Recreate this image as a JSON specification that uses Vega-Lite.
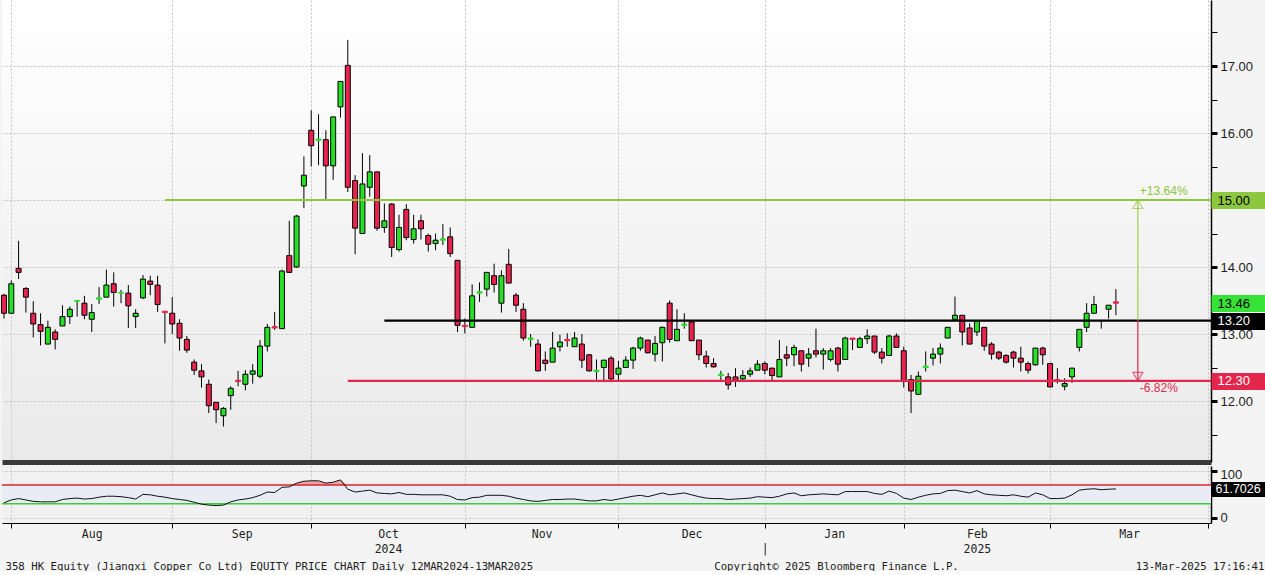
{
  "$schema": "https://vega.github.io/schema/vega-lite/v6.json",
  "background": "#F4F4F4",
  "padding": {"left": 0, "top": 0, "right": 0, "bottom": 0},
  "spacing": 4,
  "bounds": "flush",
  "datasets": {
    "ohlc": [
      {"day":0,"open":13.58,"high":13.60,"low":13.23,"close":13.31,"rsi":32},
      {"day":1,"open":13.31,"high":13.80,"low":13.31,"close":13.75,"rsi":38},
      {"day":2,"open":13.98,"high":14.39,"low":13.82,"close":13.92,"rsi":41},
      {"day":3,"open":13.68,"high":13.70,"low":13.32,"close":13.55,"rsi":38},
      {"day":4,"open":13.31,"high":13.49,"low":12.95,"close":13.15,"rsi":35},
      {"day":5,"open":13.14,"high":13.31,"low":12.83,"close":13.04,"rsi":34},
      {"day":6,"open":12.85,"high":13.20,"low":12.85,"close":13.10,"rsi":34},
      {"day":7,"open":13.03,"high":13.07,"low":12.77,"close":12.92,"rsi":34},
      {"day":8,"open":13.12,"high":13.43,"low":13.12,"close":13.26,"rsi":39},
      {"day":9,"open":13.26,"high":13.41,"low":13.15,"close":13.37,"rsi":41},
      {"day":10,"open":13.49,"high":13.51,"low":13.26,"close":13.50,"rsi":42},
      {"day":11,"open":13.46,"high":13.57,"low":13.22,"close":13.28,"rsi":40},
      {"day":12,"open":13.22,"high":13.45,"low":13.03,"close":13.32,"rsi":41},
      {"day":13,"open":13.52,"high":13.70,"low":13.45,"close":13.54,"rsi":44},
      {"day":14,"open":13.55,"high":13.96,"low":13.55,"close":13.73,"rsi":46},
      {"day":15,"open":13.75,"high":13.92,"low":13.41,"close":13.62,"rsi":46},
      {"day":16,"open":13.61,"high":13.66,"low":13.46,"close":13.62,"rsi":45},
      {"day":17,"open":13.61,"high":13.73,"low":13.09,"close":13.42,"rsi":43},
      {"day":18,"open":13.26,"high":13.37,"low":13.09,"close":13.31,"rsi":40},
      {"day":19,"open":13.54,"high":13.88,"low":13.52,"close":13.82,"rsi":50},
      {"day":20,"open":13.79,"high":13.87,"low":13.58,"close":13.74,"rsi":49},
      {"day":21,"open":13.73,"high":13.87,"low":13.33,"close":13.44,"rsi":46},
      {"day":22,"open":13.34,"high":13.34,"low":12.86,"close":13.32,"rsi":44},
      {"day":23,"open":13.31,"high":13.55,"low":13.00,"close":13.15,"rsi":41},
      {"day":24,"open":13.16,"high":13.22,"low":12.75,"close":12.94,"rsi":39},
      {"day":25,"open":12.92,"high":12.97,"low":12.72,"close":12.76,"rsi":37},
      {"day":26,"open":12.58,"high":12.62,"low":12.39,"close":12.46,"rsi":33},
      {"day":27,"open":12.45,"high":12.55,"low":12.20,"close":12.36,"rsi":29},
      {"day":28,"open":12.25,"high":12.32,"low":11.82,"close":11.93,"rsi":27},
      {"day":29,"open":11.98,"high":11.98,"low":11.67,"close":11.87,"rsi":26},
      {"day":30,"open":11.78,"high":11.91,"low":11.62,"close":11.89,"rsi":27},
      {"day":31,"open":12.08,"high":12.22,"low":11.87,"close":12.19,"rsi":34},
      {"day":32,"open":12.31,"high":12.45,"low":12.22,"close":12.29,"rsi":38},
      {"day":33,"open":12.25,"high":12.46,"low":12.16,"close":12.40,"rsi":40},
      {"day":34,"open":12.40,"high":12.55,"low":12.26,"close":12.45,"rsi":43},
      {"day":35,"open":12.37,"high":12.91,"low":12.34,"close":12.82,"rsi":48},
      {"day":36,"open":12.82,"high":13.15,"low":12.74,"close":13.10,"rsi":55},
      {"day":37,"open":13.11,"high":13.33,"low":13.06,"close":13.09,"rsi":54},
      {"day":38,"open":13.08,"high":13.96,"low":13.08,"close":13.94,"rsi":65},
      {"day":39,"open":14.17,"high":14.69,"low":13.92,"close":13.92,"rsi":66},
      {"day":40,"open":14.00,"high":14.78,"low":13.99,"close":14.76,"rsi":74},
      {"day":41,"open":15.21,"high":15.65,"low":14.88,"close":15.37,"rsi":78},
      {"day":42,"open":16.04,"high":16.34,"low":15.50,"close":15.81,"rsi":79},
      {"day":43,"open":15.89,"high":16.28,"low":15.52,"close":15.91,"rsi":79},
      {"day":44,"open":15.90,"high":16.04,"low":15.01,"close":15.51,"rsi":74},
      {"day":45,"open":15.51,"high":16.24,"low":15.30,"close":16.24,"rsi":76},
      {"day":46,"open":16.39,"high":16.77,"low":16.23,"close":16.77,"rsi":81},
      {"day":47,"open":17.01,"high":17.39,"low":15.12,"close":15.19,"rsi":61},
      {"day":48,"open":15.29,"high":15.37,"low":14.19,"close":14.58,"rsi":55},
      {"day":49,"open":14.50,"high":15.70,"low":14.50,"close":15.24,"rsi":57},
      {"day":50,"open":15.19,"high":15.67,"low":15.05,"close":15.42,"rsi":59},
      {"day":51,"open":15.42,"high":15.42,"low":14.54,"close":14.58,"rsi":53},
      {"day":52,"open":14.59,"high":14.95,"low":14.51,"close":14.69,"rsi":52},
      {"day":53,"open":14.94,"high":14.95,"low":14.15,"close":14.29,"rsi":51},
      {"day":54,"open":14.26,"high":14.78,"low":14.23,"close":14.59,"rsi":54},
      {"day":55,"open":14.86,"high":14.94,"low":14.40,"close":14.44,"rsi":50},
      {"day":56,"open":14.41,"high":14.78,"low":14.35,"close":14.57,"rsi":50},
      {"day":57,"open":14.69,"high":14.78,"low":14.41,"close":14.57,"rsi":49},
      {"day":58,"open":14.47,"high":14.50,"low":14.23,"close":14.34,"rsi":49},
      {"day":59,"open":14.35,"high":14.50,"low":14.25,"close":14.40,"rsi":49},
      {"day":60,"open":14.40,"high":14.64,"low":14.33,"close":14.42,"rsi":49},
      {"day":61,"open":14.45,"high":14.59,"low":14.15,"close":14.20,"rsi":46},
      {"day":62,"open":14.10,"high":14.10,"low":13.03,"close":13.13,"rsi":39},
      {"day":63,"open":13.13,"high":13.23,"low":13.01,"close":13.11,"rsi":38},
      {"day":64,"open":13.10,"high":13.74,"low":13.10,"close":13.57,"rsi":43},
      {"day":65,"open":13.61,"high":13.77,"low":13.48,"close":13.63,"rsi":44},
      {"day":66,"open":13.67,"high":13.92,"low":13.56,"close":13.92,"rsi":48},
      {"day":67,"open":13.87,"high":14.05,"low":13.62,"close":13.74,"rsi":48},
      {"day":68,"open":13.46,"high":13.95,"low":13.32,"close":13.87,"rsi":48},
      {"day":69,"open":14.04,"high":14.27,"low":13.76,"close":13.76,"rsi":46},
      {"day":70,"open":13.58,"high":13.61,"low":13.33,"close":13.43,"rsi":42},
      {"day":71,"open":13.37,"high":13.46,"low":12.90,"close":12.94,"rsi":39},
      {"day":72,"open":12.92,"high":13.00,"low":12.81,"close":12.94,"rsi":36},
      {"day":73,"open":12.85,"high":12.92,"low":12.44,"close":12.45,"rsi":35},
      {"day":74,"open":12.61,"high":12.74,"low":12.45,"close":12.56,"rsi":37},
      {"day":75,"open":12.58,"high":13.03,"low":12.58,"close":12.79,"rsi":39},
      {"day":76,"open":12.81,"high":12.99,"low":12.74,"close":12.88,"rsi":39},
      {"day":77,"open":12.92,"high":13.01,"low":12.81,"close":12.90,"rsi":40},
      {"day":78,"open":12.81,"high":13.03,"low":12.81,"close":12.94,"rsi":40},
      {"day":79,"open":12.85,"high":13.00,"low":12.49,"close":12.61,"rsi":38},
      {"day":80,"open":12.69,"high":12.70,"low":12.44,"close":12.45,"rsi":36},
      {"day":81,"open":12.44,"high":12.62,"low":12.32,"close":12.46,"rsi":36},
      {"day":82,"open":12.50,"high":12.61,"low":12.28,"close":12.61,"rsi":39},
      {"day":83,"open":12.64,"high":12.67,"low":12.28,"close":12.33,"rsi":37},
      {"day":84,"open":12.40,"high":12.60,"low":12.30,"close":12.49,"rsi":40},
      {"day":85,"open":12.50,"high":12.67,"low":12.50,"close":12.61,"rsi":43},
      {"day":86,"open":12.61,"high":12.81,"low":12.48,"close":12.79,"rsi":46},
      {"day":87,"open":12.79,"high":12.96,"low":12.75,"close":12.94,"rsi":48},
      {"day":88,"open":12.91,"high":12.91,"low":12.71,"close":12.72,"rsi":45},
      {"day":89,"open":12.70,"high":12.97,"low":12.59,"close":12.86,"rsi":49},
      {"day":90,"open":12.87,"high":13.11,"low":12.59,"close":13.10,"rsi":53},
      {"day":91,"open":13.46,"high":13.50,"low":12.87,"close":12.92,"rsi":49},
      {"day":92,"open":12.90,"high":13.37,"low":12.90,"close":13.07,"rsi":51},
      {"day":93,"open":13.13,"high":13.31,"low":13.08,"close":13.15,"rsi":53},
      {"day":94,"open":13.18,"high":13.20,"low":12.90,"close":12.90,"rsi":49},
      {"day":95,"open":12.91,"high":12.91,"low":12.61,"close":12.69,"rsi":45},
      {"day":96,"open":12.67,"high":12.75,"low":12.50,"close":12.56,"rsi":42},
      {"day":97,"open":12.56,"high":12.64,"low":12.50,"close":12.51,"rsi":41},
      {"day":98,"open":12.38,"high":12.45,"low":12.31,"close":12.40,"rsi":41},
      {"day":99,"open":12.36,"high":12.42,"low":12.17,"close":12.24,"rsi":39},
      {"day":100,"open":12.36,"high":12.49,"low":12.21,"close":12.31,"rsi":40},
      {"day":101,"open":12.33,"high":12.46,"low":12.29,"close":12.38,"rsi":41},
      {"day":102,"open":12.40,"high":12.50,"low":12.36,"close":12.45,"rsi":42},
      {"day":103,"open":12.46,"high":12.61,"low":12.46,"close":12.55,"rsi":45},
      {"day":104,"open":12.56,"high":12.59,"low":12.40,"close":12.46,"rsi":44},
      {"day":105,"open":12.49,"high":12.50,"low":12.30,"close":12.38,"rsi":43},
      {"day":106,"open":12.36,"high":12.91,"low":12.36,"close":12.62,"rsi":46},
      {"day":107,"open":12.69,"high":12.82,"low":12.52,"close":12.64,"rsi":51},
      {"day":108,"open":12.69,"high":12.84,"low":12.52,"close":12.80,"rsi":53},
      {"day":109,"open":12.75,"high":12.75,"low":12.44,"close":12.55,"rsi":47},
      {"day":110,"open":12.64,"high":12.79,"low":12.51,"close":12.70,"rsi":49},
      {"day":111,"open":12.75,"high":13.08,"low":12.65,"close":12.70,"rsi":50},
      {"day":112,"open":12.70,"high":12.79,"low":12.47,"close":12.75,"rsi":51},
      {"day":113,"open":12.62,"high":12.79,"low":12.59,"close":12.75,"rsi":50},
      {"day":114,"open":12.79,"high":12.81,"low":12.44,"close":12.55,"rsi":49},
      {"day":115,"open":12.62,"high":12.96,"low":12.62,"close":12.94,"rsi":56},
      {"day":116,"open":12.94,"high":12.94,"low":12.76,"close":12.92,"rsi":56},
      {"day":117,"open":12.80,"high":12.96,"low":12.80,"close":12.93,"rsi":56},
      {"day":118,"open":12.93,"high":13.07,"low":12.85,"close":12.97,"rsi":56},
      {"day":119,"open":12.97,"high":12.97,"low":12.70,"close":12.73,"rsi":52},
      {"day":120,"open":12.73,"high":12.79,"low":12.56,"close":12.64,"rsi":50},
      {"day":121,"open":12.68,"high":12.99,"low":12.68,"close":12.97,"rsi":57},
      {"day":122,"open":12.97,"high":13.01,"low":12.80,"close":12.80,"rsi":52},
      {"day":123,"open":12.75,"high":12.81,"low":12.20,"close":12.29,"rsi":42},
      {"day":124,"open":12.32,"high":12.39,"low":11.82,"close":12.15,"rsi":39},
      {"day":125,"open":12.10,"high":12.44,"low":12.10,"close":12.37,"rsi":44},
      {"day":126,"open":12.50,"high":12.74,"low":12.44,"close":12.52,"rsi":48},
      {"day":127,"open":12.64,"high":12.79,"low":12.53,"close":12.70,"rsi":51},
      {"day":128,"open":12.70,"high":12.86,"low":12.56,"close":12.79,"rsi":52},
      {"day":129,"open":12.94,"high":13.10,"low":12.94,"close":13.10,"rsi":58},
      {"day":130,"open":13.22,"high":13.56,"low":13.22,"close":13.28,"rsi":59},
      {"day":131,"open":13.28,"high":13.28,"low":12.83,"close":13.03,"rsi":56},
      {"day":132,"open":13.09,"high":13.16,"low":12.85,"close":12.85,"rsi":53},
      {"day":133,"open":13.03,"high":13.20,"low":12.97,"close":13.20,"rsi":58},
      {"day":134,"open":13.10,"high":13.10,"low":12.75,"close":12.82,"rsi":51},
      {"day":135,"open":12.85,"high":12.88,"low":12.62,"close":12.70,"rsi":49},
      {"day":136,"open":12.73,"high":12.75,"low":12.61,"close":12.64,"rsi":48},
      {"day":137,"open":12.68,"high":12.70,"low":12.56,"close":12.58,"rsi":47},
      {"day":138,"open":12.73,"high":12.75,"low":12.50,"close":12.64,"rsi":49},
      {"day":139,"open":12.64,"high":12.81,"low":12.44,"close":12.58,"rsi":46},
      {"day":140,"open":12.56,"high":12.59,"low":12.41,"close":12.46,"rsi":44},
      {"day":141,"open":12.54,"high":12.79,"low":12.53,"close":12.79,"rsi":53},
      {"day":142,"open":12.79,"high":12.81,"low":12.54,"close":12.69,"rsi":49},
      {"day":143,"open":12.56,"high":12.56,"low":12.21,"close":12.21,"rsi":41},
      {"day":144,"open":12.32,"high":12.49,"low":12.26,"close":12.30,"rsi":41},
      {"day":145,"open":12.22,"high":12.34,"low":12.16,"close":12.26,"rsi":42},
      {"day":146,"open":12.36,"high":12.50,"low":12.27,"close":12.49,"rsi":49},
      {"day":147,"open":12.80,"high":13.07,"low":12.74,"close":13.07,"rsi":59},
      {"day":148,"open":13.10,"high":13.46,"low":13.03,"close":13.31,"rsi":61},
      {"day":149,"open":13.31,"high":13.57,"low":13.31,"close":13.44,"rsi":62},
      {"day":150,"open":13.20,"high":13.21,"low":13.08,"close":13.20,"rsi":60},
      {"day":151,"open":13.37,"high":13.43,"low":13.23,"close":13.43,"rsi":61},
      {"day":152,"open":13.48,"high":13.67,"low":13.28,"close":13.46,"rsi":61.7026}
    ],
    "levels": [
      {"kind": "resistance", "level": 15.0, "from": 22, "to": 165},
      {"kind": "pivot", "level": 13.2, "from": 52, "to": 165},
      {"kind": "support", "level": 12.3, "from": 47, "to": 165}
    ],
    "moves": [
      {"dir": "up", "day": 155, "from": 13.2, "to": 15.0, "label": "+13.64%"},
      {"dir": "down", "day": 155, "from": 13.2, "to": 12.3, "label": "-6.82%"}
    ],
    "rsiZones": [
      {"zone": "overbought", "level": 70},
      {"zone": "oversold", "level": 30}
    ]
  },
  "vconcat": [
    {
      "width": 1209,
      "height": 462,
      "view": {"stroke": null, "fill": {"gradient": "linear", "x1": 0, "y1": 0, "x2": 0, "y2": 1, "stops": [{"offset": 0, "color": "#FFFFFF"}, {"offset": 1, "color": "#EAEAEA"}]}},
      "resolve": {"axis": {"x": "independent", "y": "independent"}, "scale": {"color": "independent"}},
      "layer": [
        {
          "data": {"name": "ohlc"},
          "mark": {"type": "rule", "color": "#000000", "strokeWidth": 1},
          "encoding": {
            "x": {"field": "day", "type": "quantitative", "scale": {"domain": [-0.27, 165], "nice": false, "zero": false, "padding": 0},
              "axis": {"orient": "bottom", "values": [1, 23, 42, 63, 84, 104, 123, 143, 164.6], "labels": false, "ticks": false, "grid": true, "gridDash": [2, 2], "gridColor": "#C2C2C2", "domain": true, "domainColor": "#3A3A3A", "domainWidth": 5, "title": null}},
            "y": {"field": "low", "type": "quantitative", "scale": {"domain": [11.09, 17.985], "nice": false, "zero": false},
              "axis": {"orient": "right", "values": [11.5, 12, 12.5, 13, 13.5, 14, 14.5, 15, 15.5, 16, 16.5, 17, 17.5],
                "labelExpr": "datum.value % 1 === 0 && datum.value != 15 ? format(datum.value, '.2f') : ''",
                "labelFontSize": 13, "labelPadding": 3, "tickSize": 6, "tickColor": "#000000",
                "tickWidth": {"condition": {"test": "datum.value % 1 === 0", "value": 3}, "value": 1},
                "grid": true, "gridDash": [2, 2], "gridColor": "#C2C2C2",
                "gridOpacity": {"condition": {"test": "datum.value % 1 === 0", "value": 1}, "value": 0},
                "domain": true, "domainColor": "#000000", "domainWidth": 1.5, "title": null}},
            "y2": {"field": "high"}
          }
        },
        {
          "data": {"name": "ohlc"},
          "mark": {"type": "bar", "orient": "vertical", "size": 5, "strokeWidth": 1},
          "encoding": {
            "x": {"field": "day", "type": "quantitative", "scale": {"domain": [-0.27, 165], "nice": false, "zero": false, "padding": 0}, "axis": null},
            "y": {"field": "open", "type": "quantitative", "scale": {"domain": [11.09, 17.985], "nice": false, "zero": false}, "axis": null},
            "y2": {"field": "close"},
            "fill": {"condition": {"test": "datum.close >= datum.open", "value": "#25E025"}, "value": "#E8234D"},
            "stroke": {"condition": [
              {"test": "abs(datum.close - datum.open) >= 0.025", "value": "#000000"},
              {"test": "datum.close >= datum.open", "value": "#25E025"}
            ], "value": "#E8234D"}
          }
        },
        {
          "data": {"name": "levels"},
          "mark": {"type": "rule", "strokeWidth": 2.2, "clip": true},
          "encoding": {
            "x": {"field": "from", "type": "quantitative", "scale": {"domain": [-0.27, 165], "nice": false, "zero": false, "padding": 0}, "axis": null},
            "x2": {"field": "to"},
            "y": {"field": "level", "type": "quantitative", "scale": {"domain": [11.09, 17.985], "nice": false, "zero": false},
              "axis": {"orient": "right", "values": [15, 13.46, 13.2, 12.3], "format": ".2f", "zindex": 1,
                "labelFontSize": 13, "labelPadding": -50, "labelAlign": "left",
                "labelColor": {"condition": {"test": "datum.value == 13.2 || datum.value == 12.3", "value": "#FFFFFF"}, "value": "#000000"},
                "tickSize": 56, "tickWidth": 17,
                "tickColor": {"condition": [
                  {"test": "datum.value == 15", "value": "#8DC63F"},
                  {"test": "datum.value == 13.46", "value": "#36E236"},
                  {"test": "datum.value == 12.3", "value": "#E3264B"}
                ], "value": "#000000"},
                "domain": false, "grid": false, "title": null}},
            "color": {"field": "kind", "type": "nominal", "scale": {"domain": ["resistance", "pivot", "support"], "range": ["#8DC63F", "#000000", "#E0294C"]}, "legend": null}
          }
        },
        {
          "data": {"name": "moves"},
          "mark": {"type": "rule", "strokeWidth": 1.2},
          "encoding": {
            "x": {"field": "day", "type": "quantitative", "scale": {"domain": [-0.27, 165], "nice": false, "zero": false, "padding": 0}, "axis": null},
            "y": {"field": "from", "type": "quantitative", "scale": {"domain": [11.09, 17.985], "nice": false, "zero": false}, "axis": null},
            "y2": {"field": "to"},
            "color": {"field": "dir", "type": "nominal", "scale": {"domain": ["up", "down"], "range": ["#9CCB45", "#E0294C"]}, "legend": null}
          }
        },
        {
          "data": {"name": "moves"},
          "mark": {"type": "point", "filled": false, "size": 100, "strokeWidth": 1.2},
          "encoding": {
            "x": {"field": "day", "type": "quantitative", "scale": {"domain": [-0.27, 165], "nice": false, "zero": false, "padding": 0}, "axis": null},
            "y": {"field": "to", "type": "quantitative", "scale": {"domain": [11.09, 17.985], "nice": false, "zero": false}, "axis": null},
            "shape": {"field": "dir", "type": "nominal", "scale": {"domain": ["up", "down"], "range": ["M0,0L1,1.7L-1,1.7Z", "M0,0L1,-1.7L-1,-1.7Z"]}, "legend": null},
            "color": {"field": "dir", "type": "nominal", "scale": {"domain": ["up", "down"], "range": ["#9CCB45", "#E0294C"]}, "legend": null}
          }
        },
        {
          "data": {"name": "moves"},
          "transform": [{"filter": "datum.dir == 'up'"}],
          "mark": {"type": "text", "align": "left", "baseline": "bottom", "dx": 2, "dy": -2, "fontSize": 12, "font": "Liberation Sans"},
          "encoding": {
            "x": {"field": "day", "type": "quantitative", "scale": {"domain": [-0.27, 165], "nice": false, "zero": false, "padding": 0}, "axis": null},
            "y": {"field": "to", "type": "quantitative", "scale": {"domain": [11.09, 17.985], "nice": false, "zero": false}, "axis": null},
            "text": {"field": "label"},
            "color": {"value": "#8DC63F"}
          }
        },
        {
          "data": {"name": "moves"},
          "transform": [{"filter": "datum.dir == 'down'"}],
          "mark": {"type": "text", "align": "left", "baseline": "top", "dx": 2, "dy": 2, "fontSize": 12, "font": "Liberation Sans"},
          "encoding": {
            "x": {"field": "day", "type": "quantitative", "scale": {"domain": [-0.27, 165], "nice": false, "zero": false, "padding": 0}, "axis": null},
            "y": {"field": "to", "type": "quantitative", "scale": {"domain": [11.09, 17.985], "nice": false, "zero": false}, "axis": null},
            "text": {"field": "label"},
            "color": {"value": "#E0294C"}
          }
        }
      ]
    },
    {
      "width": 1209,
      "height": 57,
      "view": {"stroke": null, "fill": "#F1F1F1"},
      "resolve": {"axis": {"x": "independent", "y": "independent"}, "scale": {"color": "independent"}},
      "layer": [
        {
          "data": {"values": [{}]},
          "mark": {"type": "rect", "color": "#E9ECF5"},
          "encoding": {
            "x": {"datum": -0.27, "type": "quantitative", "scale": {"domain": [-0.27, 165], "nice": false, "zero": false, "padding": 0}, "axis": null},
            "x2": {"datum": 165},
            "y": {"datum": 30, "type": "quantitative", "scale": {"domain": [-11.3, 110.7], "nice": false, "zero": false}, "axis": null},
            "y2": {"datum": 70}
          }
        },
        {
          "data": {"name": "ohlc"},
          "transform": [{"calculate": "max(datum.rsi, 70)", "as": "rsi_hi"}],
          "mark": {"type": "area", "color": "#F3A3A6"},
          "encoding": {
            "x": {"field": "day", "type": "quantitative", "scale": {"domain": [-0.27, 165], "nice": false, "zero": false, "padding": 0}, "axis": null},
            "y": {"field": "rsi_hi", "type": "quantitative", "scale": {"domain": [-11.3, 110.7], "nice": false, "zero": false}, "axis": null},
            "y2": {"datum": 70}
          }
        },
        {
          "data": {"name": "ohlc"},
          "transform": [{"calculate": "min(datum.rsi, 30)", "as": "rsi_lo"}],
          "mark": {"type": "area", "color": "#A9E6A9"},
          "encoding": {
            "x": {"field": "day", "type": "quantitative", "scale": {"domain": [-0.27, 165], "nice": false, "zero": false, "padding": 0}, "axis": null},
            "y": {"field": "rsi_lo", "type": "quantitative", "scale": {"domain": [-11.3, 110.7], "nice": false, "zero": false}, "axis": null},
            "y2": {"datum": 30}
          }
        },
        {
          "data": {"name": "rsiZones"},
          "mark": {"type": "rule", "strokeWidth": 1.5},
          "encoding": {
            "y": {"field": "level", "type": "quantitative", "scale": {"domain": [-11.3, 110.7], "nice": false, "zero": false}, "axis": null},
            "color": {"field": "zone", "type": "nominal", "scale": {"domain": ["overbought", "oversold"], "range": ["#D8262C", "#3DCB3D"]}, "legend": null}
          }
        },
        {
          "data": {"name": "ohlc"},
          "mark": {"type": "line", "color": "#111111", "strokeWidth": 1},
          "encoding": {
            "x": {"field": "day", "type": "quantitative", "scale": {"domain": [-0.27, 165], "nice": false, "zero": false, "padding": 0},
              "axis": {"orient": "bottom",
                "values": [1, 12, 23, 32.5, 42, 52.5, 63, 73.5, 84, 94, 104, 113.5, 123, 133, 143, 153.8, 164.6],
                "labelExpr": "datum.value == 12 ? 'Aug' : datum.value == 32.5 ? 'Sep' : datum.value == 52.5 ? ['Oct', '2024'] : datum.value == 73.5 ? 'Nov' : datum.value == 94 ? 'Dec' : datum.value == 104 ? ['', '|'] : datum.value == 113.5 ? 'Jan' : datum.value == 133 ? ['Feb', '2025'] : datum.value == 153.8 ? 'Mar' : ''",
                "labelFont": "DejaVu Sans Mono", "labelFontSize": 11.5, "labelLineHeight": 15, "labelPadding": 0, "labelBaseline": "top", "labelAlign": "center",
                "tickSize": 5, "tickColor": "#000000",
                "tickOpacity": {"condition": {"test": "indexof([1, 23, 42, 63, 84, 104, 123, 143, 164.6], datum.value) >= 0", "value": 1}, "value": 0},
                "grid": true, "gridDash": [2, 2], "gridColor": "#C2C2C2",
                "gridOpacity": {"condition": {"test": "indexof([1, 23, 42, 63, 84, 104, 123, 143, 164.6], datum.value) >= 0", "value": 1}, "value": 0},
                "domain": true, "domainColor": "#000000", "domainWidth": 1,
                "title": "Copyright© 2025 Bloomberg Finance L.P.", "titleX": 834, "titleY": 43, "titleAlign": "center", "titleBaseline": "middle", "titleAngle": 0,
                "titleFont": "DejaVu Sans Mono", "titleFontSize": 10.7, "titleFontWeight": "normal", "titleColor": "#222222"}},
            "y": {"field": "rsi", "type": "quantitative", "scale": {"domain": [-11.3, 110.7], "nice": false, "zero": false},
              "axis": {"orient": "right", "values": [0, 50, 100],
                "labelExpr": "datum.value == 50 ? '' : datum.label",
                "labelOffset": {"condition": {"test": "datum.value == 100", "value": 4}, "value": 0},
                "labelFontSize": 13, "labelPadding": 3, "tickSize": 6, "tickWidth": 3, "tickColor": "#000000",
                "tickOpacity": {"condition": {"test": "datum.value == 50", "value": 0}, "value": 1},
                "grid": true, "gridDash": [2, 2], "gridColor": "#C2C2C2",
                "domain": true, "domainColor": "#000000", "domainWidth": 1.5,
                "title": "13-Mar-2025 17:16:41", "titleX": 53, "titleY": 100, "titleAlign": "right", "titleBaseline": "middle", "titleAngle": 0,
                "titleFont": "DejaVu Sans Mono", "titleFontSize": 10.7, "titleFontWeight": "normal", "titleColor": "#222222"}}
          }
        },
        {
          "data": {"name": "ohlc"},
          "transform": [{"filter": "datum.day == 152"}],
          "mark": {"type": "point", "opacity": 0},
          "encoding": {
            "x": {"field": "day", "type": "quantitative", "scale": {"domain": [-0.27, 165], "nice": false, "zero": false, "padding": 0}, "axis": null},
            "y": {"field": "rsi", "type": "quantitative", "scale": {"domain": [-11.3, 110.7], "nice": false, "zero": false},
              "axis": {"orient": "right", "values": [61.7026], "format": ".4f", "zindex": 1,
                "labelFontSize": 12.5, "labelPadding": -52, "labelAlign": "left", "labelColor": "#FFFFFF",
                "tickSize": 56, "tickWidth": 15, "tickColor": "#000000", "domain": false, "grid": false,
                "title": "358 HK Equity (Jiangxi Copper Co Ltd) EQUITY PRICE CHART  Daily 12MAR2024-13MAR2025",
                "titleX": -1206, "titleY": 100, "titleAlign": "left", "titleBaseline": "middle", "titleAngle": 0,
                "titleFont": "DejaVu Sans Mono", "titleFontSize": 10.7, "titleFontWeight": "normal", "titleColor": "#222222"}}
          }
        }
      ]
    }
  ],
  "config": {
    "view": {"stroke": null},
    "axis": {"labelFont": "Liberation Sans", "labelColor": "#1E1E1E", "labelOverlap": false, "labelBound": false, "labelFlush": false}
  }
}
